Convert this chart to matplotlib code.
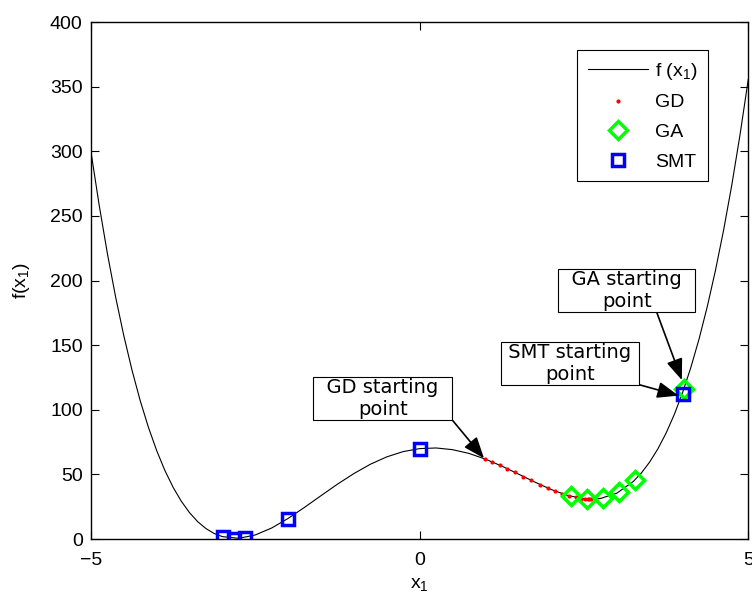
import matplotlib.pyplot as plt

# f(x1) (denser where it bends sharply)
curve_x = [-5.0, -4.875, -4.75, -4.625, -4.5, -4.375, -4.25, -4.125, -4.0,
           -3.875, -3.75, -3.625, -3.5, -3.375, -3.25, -3.125, -3.0, -2.75,
           -2.5, -2.25, -2.0, -1.75, -1.5, -1.25, -1.0, -0.75, -0.5, -0.25,
           0.0, 0.25, 0.5, 0.75, 1.0, 1.25, 1.5, 1.75, 2.0, 2.25,
           2.5, 2.75, 3.0, 3.25, 3.375, 3.5, 3.625, 3.75, 3.875, 4.0,
           4.125, 4.25, 4.375, 4.5, 4.625, 4.75, 4.875, 5.0]
curve_y = [299.5, 258.2, 220.8, 187.2, 157.2, 130.5, 106.9, 86.3, 68.4,
           53.0, 40.0, 29.2, 20.4, 13.4, 8.1, 4.3, 1.9, 0.6,
           3.2, 8.6, 16.0, 24.6, 33.6, 42.5, 50.7, 57.9, 63.6, 67.7,
           70.0, 70.5, 69.2, 66.3, 61.9, 56.5, 50.4, 44.2, 38.4, 33.8,
           31.2, 31.4, 35.5, 44.5, 51.2, 59.6, 69.8, 82.0, 96.4, 113.2,
           132.5, 154.5, 179.5, 207.6, 239.0, 274.0, 312.8, 355.5]

# gradient descent iterates
gd_x = [1.0, 1.1, 1.22, 1.33, 1.45, 1.58, 1.7, 1.83, 1.95, 2.06,
        2.17, 2.28, 2.38, 2.46, 2.52, 2.56, 2.58, 2.6]
gd_y = [61.9, 59.8, 57.2, 54.6, 51.6, 48.4, 45.4, 42.2, 39.5, 37.2,
        35.1, 33.4, 32.2, 31.4, 31.1, 31.0, 30.9, 30.9]

# genetic algorithm points
ga_x = [4.02, 2.30, 2.54, 2.79, 3.03, 3.28]
ga_y = [116.0, 33.2, 31.1, 31.5, 36.3, 45.5]

# SMT points
smt_x = [4.0, -2.99, -2.82, -2.66, -2.0, 0.0]
smt_y = [112.0, 1.5, 0.3, 0.5, 15.5, 70.0]

plt.rcParams["font.family"] = ["Liberation Sans", "DejaVu Sans"]
plt.rcParams["mathtext.default"] = "regular"

fig = plt.figure(figsize=(7.52, 5.97), dpi=100)
ax = fig.add_axes([0.121, 0.097, 0.874, 0.866])

ax.plot(curve_x, curve_y, color="black", lw=0.8, label="f (x$_1$)")
ax.plot(gd_x, gd_y, ls="none", marker="o", ms=3, mew=0, color="red", label="GD")
ax.plot(ga_x, ga_y, ls="none", marker="D", ms=9, mfc="none", mec="#00ff00",
        mew=2.5, label="GA")
ax.plot(smt_x, smt_y, ls="none", marker="s", ms=8, mfc="none", mec="#0000ff",
        mew=2.5, label="SMT")

ax.set_xlim(-5, 5)
ax.set_ylim(0, 400)
ax.set_xticks([-5, 0, 5])
ax.set_yticks(range(0, 401, 50))
ax.tick_params(direction="in", top=True, right=True, length=6, width=0.8,
               labelsize=14)
ax.tick_params(axis="x", pad=9)
ax.tick_params(axis="y", pad=6)
for s in ax.spines.values():
    s.set_linewidth(1.0)
ax.set_xlabel("x$_1$", fontsize=14, labelpad=5)
ax.set_ylabel("f(x$_1$)", fontsize=14, labelpad=13)

leg = ax.legend(loc="upper right", bbox_to_anchor=(0.939, 0.946), borderaxespad=0,
                fancybox=False, edgecolor="black", framealpha=1, fontsize=14,
                handlelength=3.1, handletextpad=0.35, labelspacing=0.62,
                borderpad=0.55)
leg.get_frame().set_linewidth(0.8)

box = dict(boxstyle="square,pad=0.05", fc="white", ec="black", lw=0.8)
notes = [
    ("  GD starting  \npoint", (0.98, 62.5), (-0.56, 109.0), (1.0, 0.0)),
    ("  GA starting  \npoint", (3.99, 123.0), (3.15, 192.0), (0.72, 0.0)),
    (" SMT starting \npoint", (3.94, 111.0), (2.29, 135.6), (1.0, 0.0)),
]
for text, xy, xytext, rel in notes:
    ax.annotate(text, xy=xy, xytext=xytext, ha="center", va="center",
                fontsize=14, family="DejaVu Sans", bbox=box,
                arrowprops=dict(arrowstyle="-|>,head_length=0.65,head_width=0.25",
                                color="black", lw=1.2, relpos=rel,
                                shrinkA=0, shrinkB=0, mutation_scale=20))

fig.savefig("out.png", dpi=100, facecolor="white")
